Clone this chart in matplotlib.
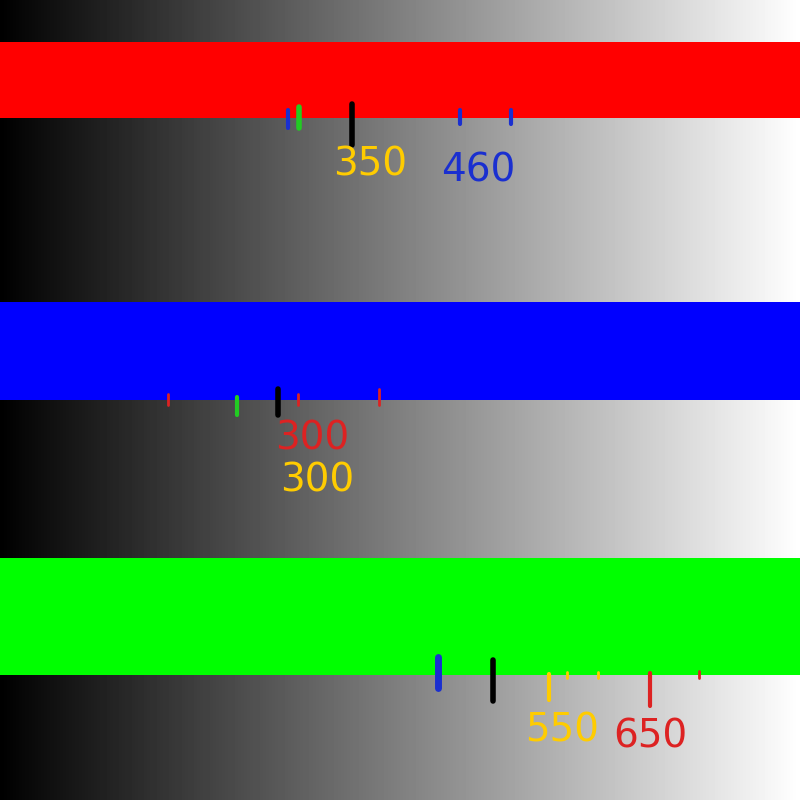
import matplotlib.pyplot as plt
import numpy as np

# bands: (top, bottom, color)
band_tops = [42, 302, 558]
band_bottoms = [118, 400, 675]
band_colors = ['#ff0000', '#0000ff', '#00ff00']

# tick marks: x, y top, y bottom, color, width
mark_x = [288, 299, 352, 460, 511,
          168, 237, 278, 298, 379,
          438, 493, 549, 567, 598, 650, 699]
mark_y0 = [110, 107, 104, 110, 110,
           394, 397, 389, 394, 389,
           657, 660, 674, 672, 672, 673, 671]
mark_y1 = [128, 128, 145, 124, 124,
           405, 415, 415, 405, 405,
           688, 701, 700, 678, 678, 706, 678]
mark_colors = ['#1a2fd0', '#22cc22', 'black', '#1a2fd0', '#1a2fd0',
               '#dd2222', '#22cc22', 'black', '#dd2222', '#dd2222',
               '#1a2fd0', 'black', '#ffcc00', '#ffcc00', '#ffcc00', '#dd2222', '#dd2222']
mark_widths = [3, 4, 4, 3, 3, 2, 3, 4, 2, 2, 5, 4, 3, 2, 2, 3, 2]

# labels
label_text = ['350', '460', '300', '300', '550', '650']
label_x = [370, 478, 312, 317, 562, 650]
label_y = [165, 170, 438, 480, 730, 737]
label_colors = ['#ffcc00', '#1a2fd0', '#dd2222', '#ffcc00', '#ffcc00', '#dd2222']

fig = plt.figure(figsize=(8, 8), dpi=100)
ax = fig.add_axes([0, 0, 1, 1])
grad = np.tile(np.linspace(0, 1, 800), (800, 1))
ax.imshow(grad, cmap='gray', extent=(0, 800, 800, 0), aspect='auto', vmin=0, vmax=1)

for t, b, c in zip(band_tops, band_bottoms, band_colors):
    ax.axhspan(t, b, color=c, lw=0)

for x, y0, y1, c, w in zip(mark_x, mark_y0, mark_y1, mark_colors, mark_widths):
    ax.plot([x, x], [y0, y1], color=c, lw=w, solid_capstyle='round')

for s, x, y, c in zip(label_text, label_x, label_y, label_colors):
    ax.text(x, y, s, color=c, fontsize=28, ha='center', va='center')

ax.set_xlim(0, 800)
ax.set_ylim(800, 0)
ax.axis('off')
plt.savefig('out.png', dpi=100)
